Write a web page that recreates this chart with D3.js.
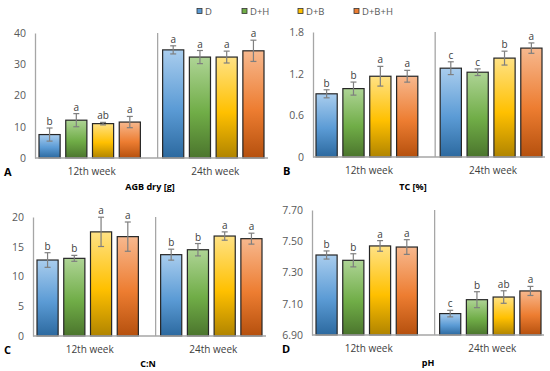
<!DOCTYPE html>
<html>
<head>
<meta charset="utf-8">
<script src="https://cdn.jsdelivr.net/npm/d3@7"></script>
<style>
  body { margin: 0; background: #fff; }
  svg text { font-family: "Open Sans", "Liberation Sans", sans-serif; }
</style>
</head>
<body>
<svg id="chart" width="550" height="371"></svg>
<script>
// data
var treatments = ["D", "D+H", "D+B", "D+B+H"];
var weeks = ["12th week", "24th week"];

var agbMean = [[7.5, 12.1, 11.0, 11.5], [34.6, 32.3, 32.3, 34.3]];
var agbErr  = [[2.1, 2.1, 0.4, 1.8], [1.3, 2.1, 1.9, 3.4]];
var agbLet  = [["b", "a", "ab", "a"], ["a", "a", "a", "a"]];
var agbTicks = [0, 10, 20, 30, 40];

var tcMean = [[0.91, 0.985, 1.163, 1.163], [1.279, 1.221, 1.424, 1.568]];
var tcErr  = [[0.058, 0.094, 0.142, 0.085], [0.092, 0.048, 0.1, 0.075]];
var tcLet  = [["b", "b", "a", "a"], ["c", "c", "b", "a"]];
var tcTicks = [0, 0.6, 1.2, 1.8];

var cnMean = [[12.77, 13.05, 17.5, 16.7], [13.67, 14.5, 16.8, 16.36]];
var cnErr  = [[1.23, 0.5, 2.46, 2.46], [0.92, 1.04, 0.7, 0.92]];
var cnLet  = [["b", "b", "a", "a"], ["b", "b", "a", "a"]];
var cnTicks = [0, 5, 10, 15, 20];

var phMean = [[7.412, 7.378, 7.47, 7.463], [7.037, 7.126, 7.143, 7.182]];
var phErr  = [[0.026, 0.042, 0.034, 0.047], [0.021, 0.051, 0.04, 0.029]];
var phLet  = [["b", "b", "a", "a"], ["c", "b", "ab", "a"]];
var phTicks = [6.90, 7.10, 7.30, 7.50, 7.70];

// gradient stops per treatment: top, middle, bottom
var barColors = [
  ["#a9cdee", "#5b9bd5", "#2c699f"],
  ["#aed495", "#70ad47", "#4b752d"],
  ["#ffe285", "#ffc000", "#b08400"],
  ["#f7b88e", "#ed7d31", "#b5500e"]
];

var svg = d3.select("#chart");
var defs = svg.append("defs");
barColors.forEach(function(c, i) {
  var g = defs.append("linearGradient").attr("id", "grad" + i)
    .attr("x1", 0).attr("x2", 0).attr("y1", 0).attr("y2", 1);
  g.append("stop").attr("offset", "0%").attr("stop-color", c[0]);
  g.append("stop").attr("offset", "55%").attr("stop-color", c[1]);
  g.append("stop").attr("offset", "100%").attr("stop-color", c[2]);
});

// legend
var legendX = [197, 242, 298, 354];
var legend = svg.append("g");
treatments.forEach(function(t, i) {
  legend.append("rect").attr("x", legendX[i]).attr("y", 8.5).attr("width", 5).attr("height", 5)
    .attr("fill", barColors[i][1]).attr("stroke", "#333").attr("stroke-width", 0.8);
  legend.append("text").attr("x", legendX[i] + 8).attr("y", 14.5)
    .attr("font-size", "9.5px").attr("fill", "#595959").text(t);
});

var panels = [
  {mean: agbMean, err: agbErr, lets: agbLet, ticks: agbTicks, fmt: d3.format("d"),
   axisX: 35, bars: [39, 264], end: 268, yTop: 33, y0: 158, letter: "A", letterX: 4, title: "AGB dry [g]", titleX: 150, titleY: 190},
  {mean: tcMean, err: tcErr, lets: tcLet, ticks: tcTicks, fmt: function(d){ return d === 0 ? "0" : d3.format(".1f")(d); },
   axisX: 313, bars: [316, 542], end: 545, yTop: 32, y0: 157, letter: "B", letterX: 283, title: "TC [%]", titleX: 413, titleY: 190},
  {mean: cnMean, err: cnErr, lets: cnLet, ticks: cnTicks, fmt: d3.format("d"),
   axisX: 33, bars: [37, 262], end: 266, yTop: 217, y0: 336, letter: "C", letterX: 4, title: "C:N", titleX: 148, titleY: 367},
  {mean: phMean, err: phErr, lets: phLet, ticks: phTicks, fmt: d3.format(".2f"),
   axisX: 312, bars: [316, 541], end: 544, yTop: 210, y0: 335, letter: "D", letterX: 282, title: "pH", titleX: 428, titleY: 366}
];

panels.forEach(function(p) {
  var g = svg.append("g");
  var y = d3.scaleLinear()
    .domain([p.ticks[0], p.ticks[p.ticks.length - 1]])
    .range([p.y0, p.yTop]);
  var xGroup = d3.scaleBand().domain(weeks).range(p.bars).paddingInner(0.18);
  var xBar = d3.scaleBand().domain(treatments).range([0, xGroup.bandwidth()]).paddingInner(0.21);

  // y axis
  var yAxis = g.append("g").attr("transform", "translate(" + p.axisX + ",0)")
    .call(d3.axisLeft(y).tickValues(p.ticks).tickFormat(p.fmt).tickSize(0).tickPadding(9));
  yAxis.select(".domain").attr("stroke", "#a6a6a6").attr("stroke-width", 1.3);
  yAxis.selectAll("text").attr("font-size", "10.5px").attr("fill", "#595959")
    .attr("font-family", "'Open Sans', sans-serif");

  // separator between weeks
  var sepX = xGroup(weeks[1]) - 5;
  g.append("line").attr("x1", sepX).attr("x2", sepX).attr("y1", p.yTop).attr("y2", p.y0)
    .attr("stroke", "#a6a6a6").attr("stroke-width", 1.3);

  weeks.forEach(function(w, wi) {
    var gw = g.append("g").attr("transform", "translate(" + xGroup(w) + ",0)");
    var rows = treatments.map(function(t, ti) {
      return {t: t, i: ti, v: p.mean[wi][ti], e: p.err[wi][ti], l: p.lets[wi][ti]};
    });
    gw.selectAll("rect").data(rows).enter().append("rect")
      .attr("x", function(d){ return xBar(d.t); })
      .attr("y", function(d){ return y(d.v); })
      .attr("width", xBar.bandwidth())
      .attr("height", function(d){ return p.y0 - y(d.v); })
      .attr("fill", function(d){ return "url(#grad" + d.i + ")"; })
      .attr("stroke", "#262626").attr("stroke-width", 1.2);

    var eb = gw.selectAll(".eb").data(rows).enter().append("g").attr("class", "eb")
      .attr("stroke", "#7f7f7f").attr("stroke-width", 1.2);
    eb.append("line")
      .attr("x1", function(d){ return xBar(d.t) + xBar.bandwidth() / 2; })
      .attr("x2", function(d){ return xBar(d.t) + xBar.bandwidth() / 2; })
      .attr("y1", function(d){ return y(d.v + d.e); })
      .attr("y2", function(d){ return y(d.v - d.e); });
    [1, -1].forEach(function(s) {
      eb.append("line")
        .attr("x1", function(d){ return xBar(d.t) + xBar.bandwidth() / 2 - 3; })
        .attr("x2", function(d){ return xBar(d.t) + xBar.bandwidth() / 2 + 3; })
        .attr("y1", function(d){ return y(d.v + s * d.e); })
        .attr("y2", function(d){ return y(d.v + s * d.e); });
    });

    gw.selectAll(".lbl").data(rows).enter().append("text").attr("class", "lbl")
      .attr("x", function(d){ return xBar(d.t) + xBar.bandwidth() / 2; })
      .attr("y", function(d){ return y(d.v + d.e) - 3; })
      .attr("text-anchor", "middle").attr("font-size", "10px").attr("fill", "#404040")
      .text(function(d){ return d.l; });

    g.append("text").attr("x", xGroup(w) + xGroup.bandwidth() / 2 + 2).attr("y", p.y0 + 17)
      .attr("text-anchor", "middle").attr("font-size", "10px").attr("fill", "#404040").text(w);
  });

  // baseline
  g.append("line").attr("x1", p.axisX).attr("x2", p.end).attr("y1", p.y0).attr("y2", p.y0)
    .attr("stroke", "#a6a6a6").attr("stroke-width", 1.3);

  g.append("text").attr("x", p.letterX).attr("y", p.y0 + 18)
    .attr("font-size", "11px").attr("font-weight", "bold").attr("fill", "#000").text(p.letter);
  g.append("text").attr("x", p.titleX).attr("y", p.titleY).attr("text-anchor", "middle")
    .attr("font-size", "9px").attr("font-weight", "bold").attr("fill", "#000").text(p.title);
});
</script>
</body>
</html>
